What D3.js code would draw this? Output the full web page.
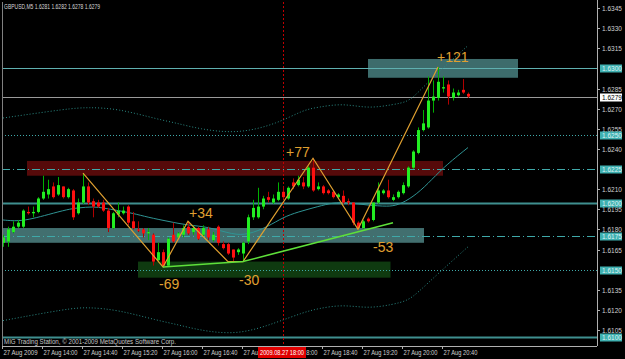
<!DOCTYPE html>
<html>
<head>
<meta charset="utf-8">
<script src="https://d3js.org/d3.v7.min.js"></script>
<style>
  body { margin: 0; background: #000; }
  svg { display: block; }
  text { font-family: "Liberation Sans", Arial, sans-serif; }
</style>
</head>
<body>
<svg width="625" height="359"></svg>
<script>
// GBPUSD M5 bars, index 0 = 27 Aug 13:20
var openP = [1.6170,1.6171,1.6178,1.6182,1.6182,1.6193,1.6192,1.6193,1.6203,1.6206,1.6212,1.6206,1.6212,1.6204,1.6209,1.6192,1.6200,1.6212,1.6201,1.6200,
  1.6200,1.6194,1.6181,1.6191,1.6192,1.6197,1.6186,1.6180,1.6180,1.6177,1.6176,1.6157,1.6163,1.6153,1.6176,1.6174,1.6176,1.6182,1.6178,1.6181,
  1.6176,1.6180,1.6172,1.6182,1.6169,1.6169,1.6165,1.6163,1.6162,1.6171,1.6189,1.6189,1.6197,1.6204,1.6200,1.6202,1.6208,1.6203,1.6215,1.6213,
  1.6215,1.6212,1.6226,1.6210,1.6212,1.6209,1.6208,1.6204,1.6205,1.6201,1.6200,1.6185,1.6181,1.6188,1.6187,1.6200,1.6207,1.6209,1.6202,1.6204,
  1.6207,1.6212,1.6226,1.6237,1.6254,1.6256,1.6276,1.6278,1.6285,1.6288,1.6278,1.6280,1.6284,1.6281];
var highP = [1.6176,1.6182,1.6186,1.6187,1.6195,1.6197,1.6197,1.6204,1.6220,1.6217,1.6215,1.6219,1.6212,1.6211,1.6210,1.6203,1.6222,1.6215,1.6203,1.6202,
  1.6202,1.6196,1.6193,1.6200,1.6197,1.6198,1.6193,1.6186,1.6181,1.6181,1.6177,1.6170,1.6165,1.6174,1.6185,1.6178,1.6183,1.6186,1.6183,1.6182,
  1.6183,1.6182,1.6178,1.6183,1.6171,1.6170,1.6165,1.6166,1.6171,1.6191,1.6202,1.6211,1.6205,1.6208,1.6206,1.6215,1.6212,1.6212,1.6218,1.6220,
  1.6219,1.6227,1.6233,1.6215,1.6213,1.6210,1.6209,1.6207,1.6209,1.6203,1.6200,1.6186,1.6187,1.6189,1.6200,1.6215,1.6210,1.6217,1.6206,1.6209,
  1.6215,1.6227,1.6239,1.6256,1.6269,1.6294,1.6291,1.6301,1.6294,1.6291,1.6285,1.6284,1.6292,1.6282];
var lowP = [1.6167,1.6167,1.6177,1.6181,1.6181,1.6191,1.6189,1.6192,1.6202,1.6203,1.6203,1.6205,1.6203,1.6203,1.6187,1.6191,1.6199,1.6198,1.6189,1.6196,
  1.6193,1.6178,1.6180,1.6189,1.6191,1.6183,1.6180,1.6178,1.6174,1.6172,1.6153,1.6156,1.6152,1.6152,1.6170,1.6173,1.6174,1.6176,1.6176,1.6172,
  1.6174,1.6172,1.6171,1.6168,1.6165,1.6161,1.6156,1.6161,1.6156,1.6169,1.6187,1.6188,1.6195,1.6200,1.6199,1.6201,1.6203,1.6202,1.6210,1.6212,
  1.6210,1.6211,1.6208,1.6209,1.6206,1.6206,1.6203,1.6203,1.6199,1.6198,1.6183,1.6180,1.6180,1.6185,1.6186,1.6199,1.6206,1.6203,1.6201,1.6203,
  1.6206,1.6211,1.6225,1.6236,1.6253,1.6255,1.6267,1.6276,1.6282,1.6273,1.6276,1.6279,1.6281,1.6278];
var closeP = [1.6174,1.6180,1.6182,1.6185,1.6194,1.6192,1.6193,1.6203,1.6208,1.6210,1.6204,1.6213,1.6204,1.6210,1.6189,1.6200,1.6212,1.6200,1.6197,1.6197,
  1.6194,1.6181,1.6192,1.6194,1.6194,1.6185,1.6181,1.6179,1.6177,1.6178,1.6156,1.6163,1.6153,1.6173,1.6171,1.6177,1.6181,1.6177,1.6181,1.6173,
  1.6181,1.6174,1.6176,1.6170,1.6166,1.6162,1.6159,1.6165,1.6170,1.6189,1.6196,1.6197,1.6203,1.6202,1.6203,1.6208,1.6204,1.6211,1.6212,1.6217,
  1.6212,1.6226,1.6209,1.6212,1.6207,1.6207,1.6204,1.6206,1.6200,1.6200,1.6185,1.6181,1.6186,1.6186,1.6200,1.6209,1.6209,1.6204,1.6204,1.6208,
  1.6213,1.6226,1.6238,1.6254,1.6259,1.6276,1.6279,1.6290,1.6286,1.6279,1.6282,1.6282,1.6282,1.6279];

// bollinger bands (bar index, price)
var bandIdx   = [0, 13, 17, 23, 31, 35, 39, 47, 55, 60, 63, 68, 73, 78, 81, 83, 87, 93];
var bandUpper = [1.6263,1.6270,1.6271,1.6270,1.6262,1.6259,1.6255,1.6251,1.6259,1.6269,1.6271,1.6274,1.6270,1.6273,1.6275,1.6282,1.6297,1.6317];
var bandLower = [1.6112,1.6121,1.6122,1.6120,1.6112,1.6109,1.6105,1.6101,1.6111,1.6118,1.6121,1.6124,1.6121,1.6124,1.6127,1.6133,1.6147,1.6167];
var maIdx = [0, 3, 6, 9, 13, 15, 18, 20, 23, 26, 29, 33, 37, 41, 46, 49, 53, 56, 59, 63, 66, 69, 73, 77, 79, 82, 85, 88, 93];
var maVal = [1.6187,1.6186,1.6188,1.6191,1.6195,1.6196,1.6197,1.6196,1.6194,1.6192,1.6189,1.6186,1.6183,1.6182,1.6176,1.6176,1.6182,1.6189,1.6193,1.6197,1.6200,1.6200,1.6198,1.6197,1.6198,1.6204,1.6214,1.6226,1.6241];

// zigzag swings and labels
var zzIdx   = [16, 32, 37, 45, 48, 62, 71, 87];
var zzPrice = [1.6222, 1.6152, 1.6186, 1.6156, 1.6156, 1.6233, 1.6180, 1.6301];
var swingText = ["+121", "+77", "+34", "-69", "-30", "-53"];
var swingAt   = [7, 5, 2, 1, 4, 6];
var trendIdx   = [32, 48, 78];
var trendPrice = [1.6152, 1.6156, 1.6185];

// rectangles: start bar, end bar, top, bottom
var rectStart = [73, 4.8, -0.2, 27];
var rectEnd   = [103, 88, 84.2, 77.5];
var rectTop   = [1.6307, 1.6231, 1.6181, 1.6156];
var rectBot   = [1.6293, 1.6220, 1.6170, 1.6144];
var rectFill  = ["#3d6c6c", "#560a0a", "#426f6f", "#0f3a10"];

// horizontal levels
var levels     = [1.6300, 1.6250, 1.6225, 1.6200, 1.6175, 1.6150, 1.6100];
var levelStyle = ["solid", "dot", "dashdot", "thick", "dashdot", "dot", "thick"];

var priceTicks = [1.6345,1.6330,1.6315,1.6285,1.6270,1.6255,1.6240,1.6210,1.6195,1.6180,1.6165,1.6135,1.6120,1.6105];
var timeTickIdx = [0, 8, 16, 24, 32, 40, 48, 56, 64, 72, 80, 88];
var timeTickText = ["27 Aug 2009","27 Aug 14:00","27 Aug 14:40","27 Aug 15:20","27 Aug 16:00","27 Aug 16:40",
  "27 Aug 17:20","27 Aug 18:00","27 Aug 18:40","27 Aug 19:20","27 Aug 20:00","27 Aug 20:40"];
var bidPrice = 1.6279;
var crossIdx = 56;

var svg = d3.select("svg");
var W = 625, H = 359, plotR = 597, plotB = 346;

var x = d3.scaleLinear().domain([0, 93]).range([3, 468]);
var y = d3.scaleLinear().domain([1.6345, 1.6105]).range([8, 330]);

svg.append("rect").attr("width", W).attr("height", H).attr("fill", "#000");

var g = svg.append("g");

// rectangles
rectStart.forEach(function(s, i) {
  g.append("rect")
    .attr("x", x(s)).attr("y", y(rectTop[i]))
    .attr("width", x(rectEnd[i]) - x(s))
    .attr("height", y(rectBot[i]) - y(rectTop[i]))
    .attr("fill", rectFill[i]);
});

// levels
levels.forEach(function(p, i) {
  var st = levelStyle[i];
  var ln = g.append("line")
    .attr("x1", 2).attr("x2", plotR)
    .attr("y1", Math.round(y(p)) + 0.5).attr("y2", Math.round(y(p)) + 0.5)
    .attr("stroke", st == "thick" ? "#3f8f8f" : "#3fa9a9")
    .attr("stroke-width", st == "thick" ? 2 : 1);
  if (st == "dot") ln.attr("stroke-dasharray", "1,2");
  if (st == "dashdot") ln.attr("stroke-dasharray", "8,3,1,3");
  if (st == "solid") ln.attr("stroke", "#5fb0b0");
});

// bid line
g.append("line").attr("x1", 2).attr("x2", plotR)
  .attr("y1", Math.round(y(bidPrice)) + 0.5).attr("y2", Math.round(y(bidPrice)) + 0.5)
  .attr("stroke", "#9a9a9a");

// crosshair
g.append("line").attr("x1", Math.round(x(crossIdx)) + 0.5).attr("x2", Math.round(x(crossIdx)) + 0.5)
  .attr("y1", 2).attr("y2", plotB)
  .attr("stroke", "#c00000").attr("stroke-dasharray", "2,2");

// bands
var curve = d3.line().x(function(d) { return x(d[0]); }).y(function(d) { return y(d[1]); }).curve(d3.curveBasis);
g.append("path").attr("d", curve(bandIdx.map(function(b, i) { return [b, bandUpper[i]]; })))
  .attr("fill", "none").attr("stroke", "#2a8a84").attr("stroke-dasharray", "1,2");
g.append("path").attr("d", curve(bandIdx.map(function(b, i) { return [b, bandLower[i]]; })))
  .attr("fill", "none").attr("stroke", "#2a8a84").attr("stroke-dasharray", "1,2");
g.append("path").attr("d", curve(maIdx.map(function(b, i) { return [b, maVal[i]]; })))
  .attr("fill", "none").attr("stroke", "#2f9494");

// candles
var bars = g.selectAll(".bar").data(d3.range(openP.length)).enter().append("g");
bars.append("line")
  .attr("x1", function(i) { return Math.round(x(i)) + 0.5; })
  .attr("x2", function(i) { return Math.round(x(i)) + 0.5; })
  .attr("y1", function(i) { return y(highP[i]); })
  .attr("y2", function(i) { return y(lowP[i]); })
  .attr("stroke", function(i) { return closeP[i] >= openP[i] ? "#00b000" : "#b00000"; });
bars.append("rect")
  .attr("x", function(i) { return Math.round(x(i)) - 1; })
  .attr("y", function(i) { return y(Math.max(openP[i], closeP[i])); })
  .attr("width", 3)
  .attr("height", function(i) { return Math.max(1, Math.abs(y(openP[i]) - y(closeP[i]))); })
  .attr("fill", function(i) { return closeP[i] >= openP[i] ? "#22ee22" : "#ff1010"; });

// zigzag
var straight = d3.line().x(function(d) { return x(d[0]); }).y(function(d) { return y(d[1]); });
g.append("path").attr("d", straight(zzIdx.map(function(b, i) { return [b, zzPrice[i]]; })))
  .attr("fill", "none").attr("stroke", "#e0a030").attr("stroke-width", 1.2);
g.append("path").attr("d", straight(trendIdx.map(function(b, i) { return [b, trendPrice[i]]; })))
  .attr("fill", "none").attr("stroke", "#5ee03a").attr("stroke-width", 1.6);

// swing labels, offsets from their zigzag point
var swingOff = [[-1, -5], [-27, -1], [1, -3], [-4, 22], [-4, 23], [15, 23]];
swingText.forEach(function(t, k) {
  var j = swingAt[k];
  g.append("text")
    .attr("x", x(zzIdx[j]) + swingOff[k][0])
    .attr("y", y(zzPrice[j]) + swingOff[k][1])
    .attr("fill", "#e0a030").attr("font-size", 14).text(t);
});

// frame
svg.append("line").attr("x1", 2.5).attr("x2", 2.5).attr("y1", 2).attr("y2", plotB).attr("stroke", "#808080");
svg.append("line").attr("x1", plotR + 0.5).attr("x2", plotR + 0.5).attr("y1", 0).attr("y2", plotB).attr("stroke", "#b0b0b0");
svg.append("line").attr("x1", 2).attr("x2", plotR).attr("y1", plotB + 0.5).attr("y2", plotB + 0.5).attr("stroke", "#b0b0b0");

// price axis
var ay = svg.append("g");
priceTicks.forEach(function(p) {
  var yy = Math.round(y(p)) + 0.5;
  ay.append("line").attr("x1", plotR).attr("x2", plotR + 3).attr("y1", yy).attr("y2", yy).attr("stroke", "#b0b0b0");
  ay.append("text").attr("x", 602).attr("y", yy + 2.5).attr("fill", "#d0d0d0").attr("font-size", 6.5).text(p.toFixed(4));
});
levels.forEach(function(p) {
  var yy = Math.round(y(p));
  ay.append("rect").attr("x", 600).attr("y", yy - 3.5).attr("width", 22).attr("height", 8).attr("fill", "#3fb0b0");
  ay.append("text").attr("x", 602).attr("y", yy + 3).attr("fill", "#dff5f5").attr("font-size", 6.5).text(p.toFixed(4));
});
ay.append("rect").attr("x", 600).attr("y", Math.round(y(bidPrice)) - 3.5).attr("width", 22).attr("height", 8).attr("fill", "#fff");
ay.append("text").attr("x", 602).attr("y", Math.round(y(bidPrice)) + 3).attr("fill", "#000").attr("font-size", 6.5).text(bidPrice.toFixed(4));

// time axis
var ax = svg.append("g");
timeTickIdx.forEach(function(b, k) {
  var xx = Math.round(x(b)) - 0.5;
  ax.append("line").attr("x1", xx).attr("x2", xx).attr("y1", plotB).attr("y2", plotB + 3).attr("stroke", "#b0b0b0");
  ax.append("text").attr("x", xx + 1).attr("y", 355).attr("fill", "#d0d0d0").attr("font-size", 6.5)
    .attr("textLength", 34).attr("lengthAdjust", "spacingAndGlyphs").text(timeTickText[k]);
});
ax.append("rect").attr("x", x(crossIdx) - 25).attr("y", 347).attr("width", 48).attr("height", 11).attr("fill", "#e00000");
ax.append("text").attr("x", x(crossIdx) - 23).attr("y", 355)
  .attr("fill", "#fff").attr("font-size", 6.5)
  .attr("textLength", 44).attr("lengthAdjust", "spacingAndGlyphs").text("2009.08.27 18:00");

// header and copyright
svg.append("text").attr("x", 4).attr("y", 9).attr("fill", "#d8d8d8").attr("font-size", 6.5)
  .attr("textLength", 96).attr("lengthAdjust", "spacingAndGlyphs")
  .text("GBPUSD,M5  1.6281 1.6282 1.6278 1.6279");
svg.append("text").attr("x", 4).attr("y", 344).attr("fill", "#c8c8c8").attr("font-size", 6.5)
  .attr("textLength", 172).attr("lengthAdjust", "spacingAndGlyphs")
  .text("MIG Trading Station, \u00a9 2001-2009 MetaQuotes Software Corp.");
</script>
</body>
</html>
